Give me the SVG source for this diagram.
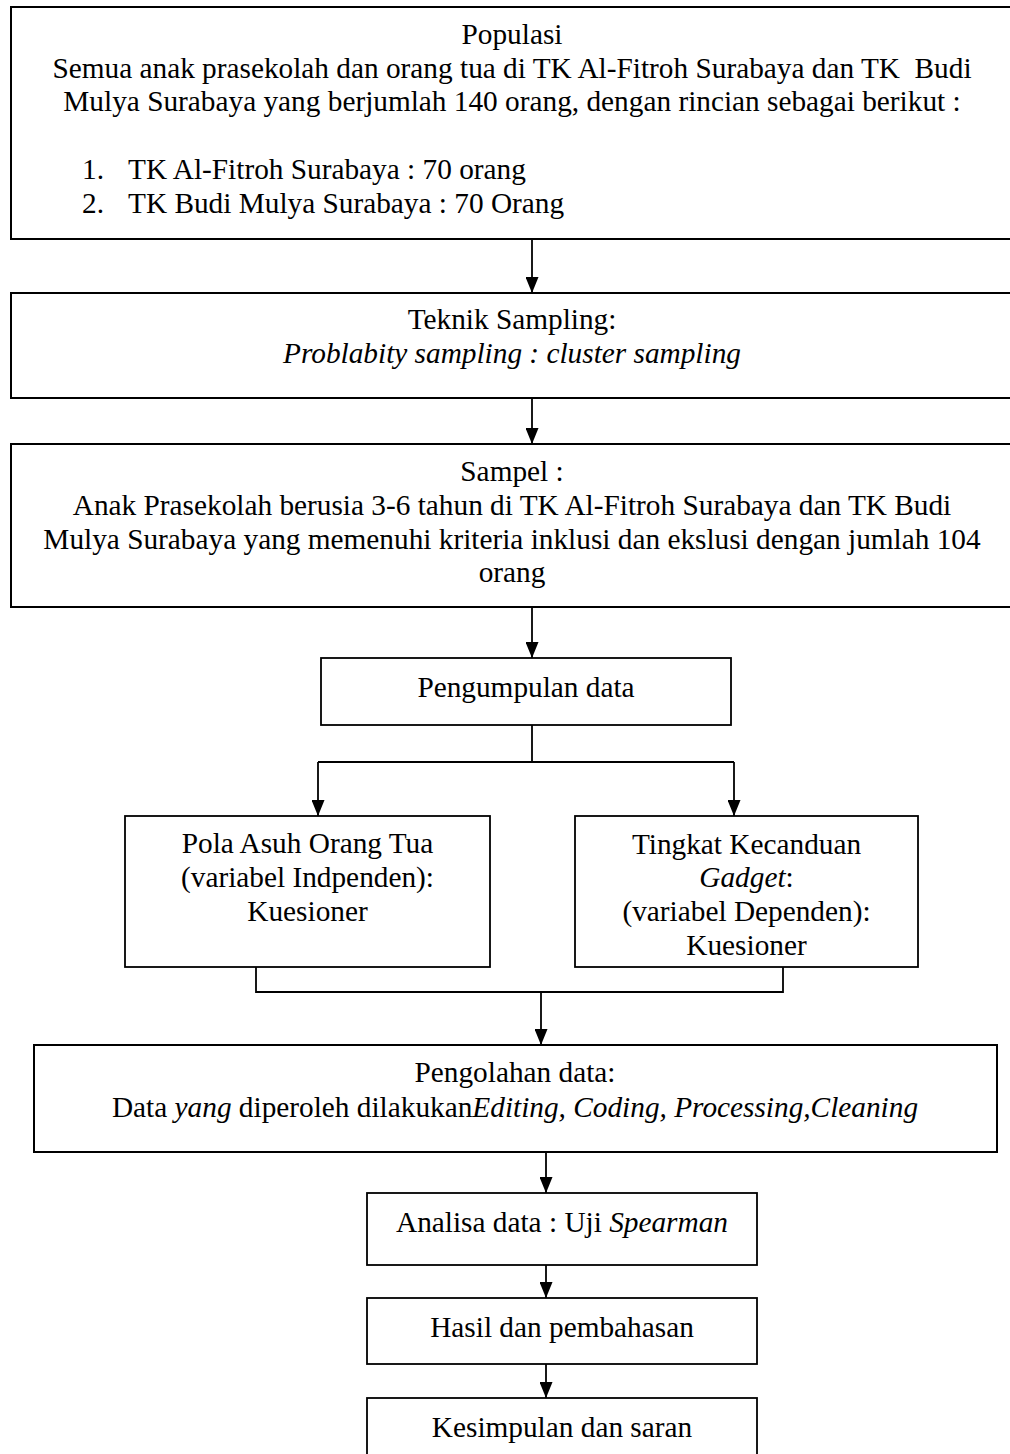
<svg xmlns="http://www.w3.org/2000/svg" width="1010" height="1454" viewBox="0 0 1010 1454">
<style>
.box{fill:#fff;stroke:#000;stroke-width:2}
.sbox{fill:#fff;stroke:#000;stroke-width:1.8}
.t{font-family:"Liberation Serif","Times New Roman",serif;font-size:29.3px;fill:#000;white-space:pre}
.c{text-anchor:middle}
.i{font-style:italic}
.con{fill:none;stroke:#000;stroke-width:1.8}
</style>
<defs>
<marker id="ah" markerUnits="userSpaceOnUse" markerWidth="16" markerHeight="13" refX="16" refY="6.5" orient="auto" viewBox="0 0 16 13">
<path d="M0,0 L16,6.5 L0,13 Z" fill="#000"/>
</marker>
</defs>
<rect width="1010" height="1454" fill="#fff"/>

<g id="connectors">
<line class="con" x1="532" y1="240" x2="532" y2="293" marker-end="url(#ah)"/>
<line class="con" x1="532" y1="398" x2="532" y2="444" marker-end="url(#ah)"/>
<line class="con" x1="532" y1="607" x2="532" y2="658" marker-end="url(#ah)"/>
<path class="con" d="M532,725 V762 M318,762 H734"/>
<line class="con" x1="318" y1="762" x2="318" y2="816" marker-end="url(#ah)"/>
<line class="con" x1="734" y1="762" x2="734" y2="816" marker-end="url(#ah)"/>
<path class="con" d="M256,967 V992 H783 V967"/>
<line class="con" x1="541" y1="992" x2="541" y2="1045" marker-end="url(#ah)"/>
<line class="con" x1="546" y1="1152" x2="546" y2="1193" marker-end="url(#ah)"/>
<line class="con" x1="546" y1="1265" x2="546" y2="1298" marker-end="url(#ah)"/>
<line class="con" x1="546" y1="1364" x2="546" y2="1398" marker-end="url(#ah)"/>
</g>

<g id="populasi">
<rect class="box" x="11" y="7" width="1010" height="232"/>
<text class="t c" x="512" y="44">Populasi</text>
<text class="t c" x="512" y="78">Semua anak prasekolah dan orang tua di TK Al-Fitroh Surabaya dan TK  Budi</text>
<text class="t c" x="512" y="111">Mulya Surabaya yang berjumlah 140 orang, dengan rincian sebagai berikut :</text>
<text class="t" x="82" y="179">1.</text>
<text class="t" x="128" y="179">TK Al-Fitroh Surabaya : 70 orang</text>
<text class="t" x="82" y="213">2.</text>
<text class="t" x="128" y="213">TK Budi Mulya Surabaya : 70 Orang</text>
</g>

<g id="teknik">
<rect class="box" x="11" y="293" width="1010" height="105"/>
<text class="t c" x="512" y="329">Teknik Sampling:</text>
<text class="t c i" x="512" y="363">Problabity sampling : cluster sampling</text>
</g>

<g id="sampel">
<rect class="box" x="11" y="444" width="1010" height="163"/>
<text class="t c" x="512" y="481">Sampel :</text>
<text class="t c" x="512" y="515">Anak Prasekolah berusia 3-6 tahun di TK Al-Fitroh Surabaya dan TK Budi</text>
<text class="t c" x="512" y="549">Mulya Surabaya yang memenuhi kriteria inklusi dan ekslusi dengan jumlah 104</text>
<text class="t c" x="512" y="582">orang</text>
</g>

<g id="pengumpulan">
<rect class="sbox" x="321" y="658" width="410" height="67"/>
<text class="t c" x="526" y="697">Pengumpulan data</text>
</g>

<g id="pola-asuh">
<rect class="sbox" x="125" y="816" width="365" height="151"/>
<text class="t c" x="307.5" y="853">Pola Asuh Orang Tua</text>
<text class="t c" x="307.5" y="887">(variabel Indpenden):</text>
<text class="t c" x="307.5" y="921">Kuesioner</text>
</g>

<g id="kecanduan">
<rect class="sbox" x="575" y="816" width="343" height="151"/>
<text class="t c" x="746.5" y="854">Tingkat Kecanduan</text>
<text class="t c" x="746.5" y="887"><tspan class="i">Gadget</tspan>:</text>
<text class="t c" x="746.5" y="921">(variabel Dependen):</text>
<text class="t c" x="746.5" y="955">Kuesioner</text>
</g>

<g id="pengolahan">
<rect class="box" x="34" y="1045" width="963" height="107"/>
<text class="t c" x="515" y="1082">Pengolahan data:</text>
<text class="t c" x="515" y="1117">Data <tspan class="i">yang</tspan> diperoleh dilakukan<tspan class="i">Editing, Coding, Processing,Cleaning</tspan></text>
</g>

<g id="analisa">
<rect class="sbox" x="367" y="1193" width="390" height="72"/>
<text class="t c" x="562" y="1232">Analisa data : Uji <tspan class="i">Spearman</tspan></text>
</g>

<g id="hasil">
<rect class="sbox" x="367" y="1298" width="390" height="66"/>
<text class="t c" x="562" y="1337">Hasil dan pembahasan</text>
</g>

<g id="kesimpulan">
<rect class="sbox" x="367" y="1398" width="390" height="70"/>
<text class="t c" x="562" y="1437">Kesimpulan dan saran</text>
</g>
</svg>
